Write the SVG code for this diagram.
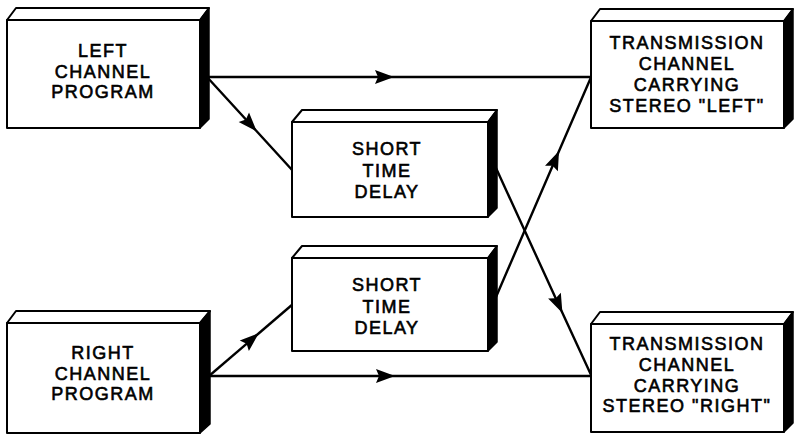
<svg xmlns="http://www.w3.org/2000/svg" width="794" height="435" viewBox="0 0 794 435">
  <style>
    .bg { fill: #ffffff; }
    .face { fill: #ffffff; stroke: #000000; stroke-width: 2; stroke-linejoin: round; }
    .side { fill: #000000; stroke: #000000; stroke-width: 1.5; stroke-linejoin: round; }
    .wire { fill: none; stroke: #000000; stroke-width: 2.4; stroke-linejoin: round; }
    .label { font-family: "Liberation Sans", Arial, sans-serif; font-size: 18px; font-weight: normal; letter-spacing: 1.5px; text-anchor: middle; fill: #000000; stroke: #000000; stroke-width: 0.6px; }
  </style>
  <defs>
    <marker id="arrow" markerUnits="userSpaceOnUse" markerWidth="24" markerHeight="18" viewBox="-20 -9 22 18" refX="0" refY="0" orient="auto">
      <path d="M1,0 L-18,-7 L-15,0 L-18,7 Z" fill="#000000"/>
    </marker>
  </defs>

  <rect class="bg" x="0" y="0" width="794" height="435"/>

  <!-- signal paths; each arrowhead sits on the path's middle vertex -->
  <g id="connectors">
    <path class="wire" marker-mid="url(#arrow)" d="M205,77 L393,77 L592,77"/>
    <path class="wire" marker-mid="url(#arrow)" d="M207,77 L256,130.5 L293,171"/>
    <path class="wire" marker-mid="url(#arrow)" d="M207,376 L394,376 L592,376"/>
    <path class="wire" marker-mid="url(#arrow)" d="M209,376 L258,334 L293,304"/>
    <path class="wire" marker-mid="url(#arrow)" d="M496,168 L562,312 L592,377"/>
    <path class="wire" marker-mid="url(#arrow)" d="M496,297 L558.6,152 L592,75"/>
  </g>

  <g id="left-program">
    <polygon class="face" points="7,20 16,8 209,8 200,20"/>
    <polygon class="side" points="200,20 209,8 209,119 200,128"/>
    <rect class="face" x="7" y="20" width="193" height="108"/>
    <text class="label" x="103" y="57">LEFT</text>
    <text class="label" x="103" y="78">CHANNEL</text>
    <text class="label" x="103" y="98">PROGRAM</text>
  </g>

  <g id="delay-upper">
    <polygon class="face" points="292,122 302,110 497,110 488,122"/>
    <polygon class="side" points="488,122 497,110 497,208 488,217"/>
    <rect class="face" x="292" y="122" width="196" height="95"/>
    <text class="label" x="387" y="155">SHORT</text>
    <text class="label" x="387" y="177">TIME</text>
    <text class="label" x="387" y="198">DELAY</text>
  </g>

  <g id="delay-lower">
    <polygon class="face" points="292,258 302,246 497,246 488,258"/>
    <polygon class="side" points="488,258 497,246 497,342 488,351"/>
    <rect class="face" x="292" y="258" width="196" height="93"/>
    <text class="label" x="387" y="291">SHORT</text>
    <text class="label" x="387" y="313">TIME</text>
    <text class="label" x="387" y="334">DELAY</text>
  </g>

  <g id="right-program">
    <polygon class="face" points="7,323 16,311 210,311 200,323"/>
    <polygon class="side" points="200,323 210,311 210,424 200,433"/>
    <rect class="face" x="7" y="323" width="193" height="110"/>
    <text class="label" x="103" y="359">RIGHT</text>
    <text class="label" x="103" y="380">CHANNEL</text>
    <text class="label" x="103" y="400">PROGRAM</text>
  </g>

  <g id="transmission-left">
    <polygon class="face" points="591,21 600,9 793,9 784,21"/>
    <polygon class="side" points="784,21 793,9 793,119 784,128"/>
    <rect class="face" x="591" y="21" width="193" height="107"/>
    <text class="label" x="687" y="49">TRANSMISSION</text>
    <text class="label" x="687" y="70">CHANNEL</text>
    <text class="label" x="687" y="91">CARRYING</text>
    <text class="label" x="687" y="112">STEREO "LEFT"</text>
  </g>

  <g id="transmission-right">
    <polygon class="face" points="591,324 600,312 793,312 784,324"/>
    <polygon class="side" points="784,324 793,312 793,423 784,432"/>
    <rect class="face" x="591" y="324" width="193" height="108"/>
    <text class="label" x="687" y="350">TRANSMISSION</text>
    <text class="label" x="687" y="371">CHANNEL</text>
    <text class="label" x="687" y="392">CARRYING</text>
    <text class="label" x="687" y="412">STEREO "RIGHT"</text>
  </g>
</svg>
